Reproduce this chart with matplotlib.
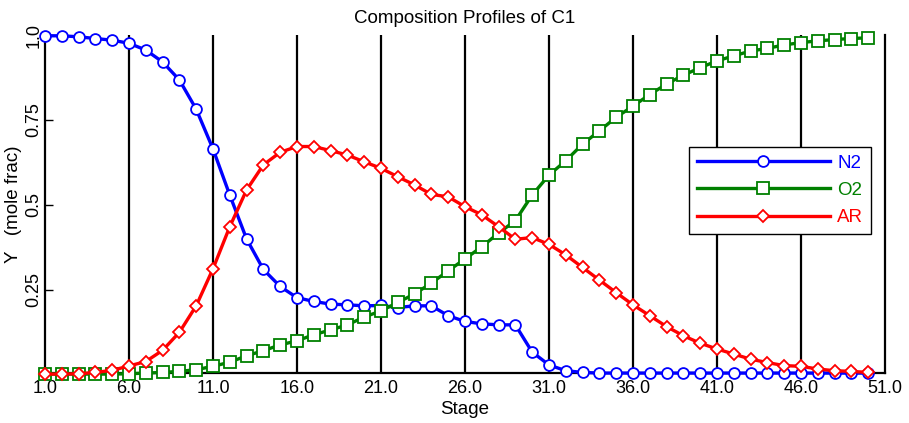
import matplotlib
matplotlib.use("Agg")
import matplotlib.pyplot as plt

plt.rcParams['font.family'] = ['Liberation Sans', 'DejaVu Sans']

# perfis de composicao do vapor ao longo da coluna C1
stages = list(range(1, 51))

n2 = [0.998, 0.998, 0.995, 0.990, 0.985, 0.976, 0.956, 0.921, 0.868, 0.782,
      0.665, 0.529, 0.400, 0.310, 0.260, 0.227, 0.216, 0.208, 0.206, 0.203,
      0.204, 0.198, 0.203, 0.203, 0.174, 0.157, 0.150, 0.147, 0.147, 0.067,
      0.029, 0.012, 0.007, 0.005, 0.005, 0.005, 0.005, 0.005, 0.005, 0.005,
      0.005, 0.005, 0.005, 0.005, 0.005, 0.005, 0.005, 0.005, 0.005, 0.005]

o2 = [0.002, 0.002, 0.002, 0.002, 0.002, 0.003, 0.005, 0.007, 0.010, 0.015,
      0.025, 0.037, 0.056, 0.071, 0.088, 0.100, 0.118, 0.132, 0.147, 0.170,
      0.188, 0.213, 0.238, 0.270, 0.306, 0.341, 0.377, 0.417, 0.454, 0.529,
      0.588, 0.630, 0.679, 0.718, 0.758, 0.791, 0.825, 0.856, 0.882, 0.904,
      0.924, 0.939, 0.953, 0.961, 0.971, 0.978, 0.983, 0.987, 0.990, 0.992]

ar = [0.002, 0.002, 0.003, 0.007, 0.013, 0.026, 0.039, 0.072, 0.125, 0.203,
      0.312, 0.436, 0.544, 0.618, 0.655, 0.672, 0.672, 0.660, 0.647, 0.627,
      0.608, 0.583, 0.559, 0.531, 0.524, 0.495, 0.471, 0.436, 0.399, 0.404,
      0.384, 0.353, 0.316, 0.279, 0.242, 0.206, 0.174, 0.142, 0.115, 0.093,
      0.076, 0.061, 0.046, 0.036, 0.027, 0.025, 0.017, 0.012, 0.010, 0.007]

x_ticks = [1, 6, 11, 16, 21, 26, 31, 36, 41, 46, 51]
y_ticks = [0.25, 0.5, 0.75, 1.0]

fig = plt.figure(figsize=(9.09, 4.23), dpi=100)
ax = fig.add_axes([0.0495, 0.118, 0.924, 0.799])

# linhas verticais pretas em cada estagio marcado
ax.vlines(x_ticks[1:-1], 0.005, 1.0, colors='black', linewidth=1.6, zorder=1)

series = [
    (n2, 'N2', 'blue', 'o', 7.8),
    (o2, 'O2', 'green', 's', 8.2),
    (ar, 'AR', 'red', 'D', 6.4),
]
for ys, nome, cor, mk, ms in series:
    ax.plot(stages, ys, color=cor, linewidth=2.4, marker=mk, markersize=ms,
            markerfacecolor='white', markeredgecolor=cor, markeredgewidth=1.3,
            label=nome, clip_on=False, zorder=3)

ax.set_xlim(1, 51)
ax.set_ylim(0.005, 1.0)
ax.set_xticks(x_ticks)
ax.set_xticklabels([f"{v:.1f}" for v in x_ticks])
ax.set_yticks(y_ticks)
ax.set_yticklabels(['0.25', '0.5', '0.75', '1.0'], rotation=90, va='center')
ax.tick_params(axis='x', length=0, pad=5, labelsize=13)
ax.tick_params(axis='y', direction='in', length=6, width=1, pad=2, labelsize=13)

ax.spines['top'].set_visible(False)
for lado in ['left', 'right', 'bottom']:
    ax.spines[lado].set_linewidth(1.6)
    ax.spines[lado].set_color('black')

ax.set_title('Composition Profiles of C1', fontsize=13.5, pad=9)
ax.set_xlabel('Stage', fontsize=13.5, labelpad=3)
ax.set_ylabel('Y   (mole frac)', fontsize=13.5)
ax.yaxis.set_label_coords(-0.027, 0.5)

leg = ax.legend(loc='upper left', bbox_to_anchor=(0.767, 0.669), numpoints=1,
                handlelength=7.1, handletextpad=0.4, labelspacing=0.55,
                fontsize=13.5, fancybox=False, framealpha=1, edgecolor='black',
                borderaxespad=0, borderpad=0.4)
leg.get_frame().set_linewidth(1.0)
leg.set_zorder(5)
for txt, (_, _, cor, _, _) in zip(leg.get_texts(), series):
    txt.set_color(cor)

plt.savefig('out.png', dpi=100)
